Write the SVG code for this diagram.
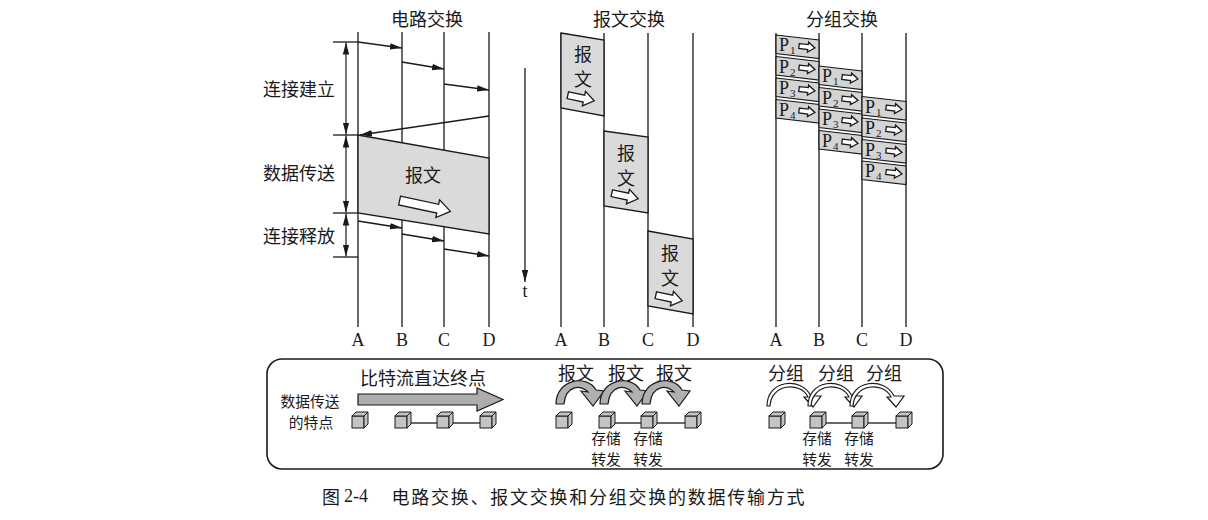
<svg xmlns="http://www.w3.org/2000/svg" xmlns:xlink="http://www.w3.org/1999/xlink" width="1208" height="520" viewBox="0 0 1208 520">
<style>
.cjk{font-family:"Noto Sans CJK SC","Noto Sans CJK JP",sans-serif;font-size:18px;fill:#1a1a1a;text-anchor:middle;dominant-baseline:central}
.ml{font-family:"Noto Sans CJK SC","Noto Sans CJK JP",sans-serif;font-size:14.8px;fill:#1a1a1a;text-anchor:middle;dominant-baseline:central}
.lat{font-family:"Liberation Serif",serif;font-size:18px;fill:#1a1a1a;text-anchor:middle;dominant-baseline:central}
.ln{stroke:#1a1a1a;stroke-width:1.3;fill:none}
.ar{stroke:#1a1a1a;stroke-width:1.3;fill:none;marker-end:url(#ah)}
.dim{stroke:#1a1a1a;stroke-width:1.2;fill:none;marker-start:url(#ah);marker-end:url(#ah)}
.gray{fill:#dadada;stroke:#1a1a1a;stroke-width:1.3}
.pk{fill:#d4d4d4;stroke:#1a1a1a;stroke-width:1.2}
.ha{fill:#fff;stroke:#1a1a1a;stroke-width:1.3}
.pl{font-family:"Liberation Serif",serif;font-size:18px;fill:#1a1a1a}
.ps{font-family:"Liberation Serif",serif;font-size:11px;fill:#1a1a1a}
.cb{fill:#c4c4c4;stroke:#1a1a1a;stroke-width:1}
</style>
<defs>
<marker id="ah" viewBox="0 0 12 8" refX="12" refY="4" markerWidth="12" markerHeight="8" markerUnits="userSpaceOnUse" orient="auto-start-reverse"><path d="M0,0.8 L12,4 L0,7.2 Z" fill="#1a1a1a"/></marker>
<path id="ham" d="M-13.5,-3.5 H3 V-7.5 L13.5,0 L3,7.5 V3.5 H-13.5 Z"/>
<path id="hab" d="M-26,-4.5 H13 V-9 L26,0 L13,9 V4.5 H-26 Z"/>
<path id="has" d="M-8,-2.5 H1 V-5 L8,0 L1,5 V2.5 H-8 Z"/>
<g id="cube"><rect x="-7" y="-3" width="12" height="12"/><path d="M-7,-3 L-3,-7 L9,-7 L5,-3 Z M5,-3 L9,-7 L9,5 L5,9 Z"/></g>
</defs>
<rect width="1208" height="520" fill="#fff"/>

<g id="titles">
<text class="cjk" x="427" y="18">电路交换</text>
<text class="cjk" x="629" y="18">报文交换</text>
<text class="cjk" x="842" y="18">分组交换</text>
</g>

<g id="circuit">
<line class="ln" x1="358" y1="32" x2="358" y2="327"/>
<line class="ln" x1="402" y1="32" x2="402" y2="327"/>
<line class="ln" x1="444" y1="32" x2="444" y2="327"/>
<line class="ln" x1="489" y1="32" x2="489" y2="327"/>
<polygon class="gray" points="358,135 489,158 489,234 358,213"/>
<text class="cjk" x="423" y="174">报文</text>
<use xlink:href="#hab" class="ha" transform="translate(425,206) rotate(12)"/>
<text class="lat" x="358" y="340">A</text>
<text class="lat" x="402" y="340">B</text>
<text class="lat" x="444" y="340">C</text>
<text class="lat" x="489" y="340">D</text>
<text class="cjk" x="299" y="88">连接建立</text>
<text class="cjk" x="299" y="172">数据传送</text>
<text class="cjk" x="299" y="235">连接释放</text>
<line class="ln" x1="333" y1="42" x2="358" y2="42"/>
<line class="ln" x1="333" y1="135" x2="358" y2="135"/>
<line class="ln" x1="333" y1="213" x2="358" y2="213"/>
<line class="ln" x1="333" y1="257" x2="358" y2="257"/>
<line class="dim" x1="346" y1="42.5" x2="346" y2="134.5"/>
<line class="dim" x1="346" y1="135.5" x2="346" y2="212.5"/>
<line class="dim" x1="346" y1="213.5" x2="346" y2="256.5"/>
</g>

<g id="time">
<line class="ar" x1="525" y1="68" x2="525" y2="282"/>
<text class="lat" x="525" y="291">t</text>
</g>

<g id="message">
<line class="ln" x1="561" y1="33" x2="561" y2="327"/>
<line class="ln" x1="604" y1="33" x2="604" y2="327"/>
<line class="ln" x1="648" y1="33" x2="648" y2="327"/>
<line class="ln" x1="693" y1="33" x2="693" y2="327"/>
<polygon class="gray" points="561,33 604,40 604,116 561,108"/>
<polygon class="gray" points="604,131 648,137 648,213 604,206"/>
<polygon class="gray" points="648,231 693,239 693,314 648,306"/>
<text class="cjk" x="583" y="53">报</text><text class="cjk" x="583" y="78">文</text>
<use xlink:href="#ham" class="ha" transform="translate(581,98) rotate(12)"/>
<text class="cjk" x="626" y="152">报</text><text class="cjk" x="626" y="177">文</text>
<use xlink:href="#ham" class="ha" transform="translate(625,196) rotate(12)"/>
<text class="cjk" x="670" y="252">报</text><text class="cjk" x="670" y="277">文</text>
<use xlink:href="#ham" class="ha" transform="translate(669,298) rotate(12)"/>
<text class="lat" x="561" y="340">A</text>
<text class="lat" x="604" y="340">B</text>
<text class="lat" x="648" y="340">C</text>
<text class="lat" x="693" y="340">D</text>
</g>

<g id="packet">
<line class="ln" x1="776" y1="33" x2="776" y2="327"/>
<line class="ln" x1="819" y1="33" x2="819" y2="327"/>
<line class="ln" x1="862" y1="33" x2="862" y2="327"/>
<line class="ln" x1="906" y1="33" x2="906" y2="327"/>
<g transform="translate(776,35)"><polygon class="pk" points="0,0 43,5 43,23.5 0,18.5"/><text class="pl" x="3" y="16">P</text><text class="ps" x="14" y="19">1</text><use xlink:href="#has" class="ha" transform="translate(31,12) rotate(7)"/></g>
<g transform="translate(776,56.5)"><polygon class="pk" points="0,0 43,5 43,23.5 0,18.5"/><text class="pl" x="3" y="16">P</text><text class="ps" x="14" y="19">2</text><use xlink:href="#has" class="ha" transform="translate(31,12) rotate(7)"/></g>
<g transform="translate(776,78)"><polygon class="pk" points="0,0 43,5 43,23.5 0,18.5"/><text class="pl" x="3" y="16">P</text><text class="ps" x="14" y="19">3</text><use xlink:href="#has" class="ha" transform="translate(31,12) rotate(7)"/></g>
<g transform="translate(776,99.5)"><polygon class="pk" points="0,0 43,5 43,23.5 0,18.5"/><text class="pl" x="3" y="16">P</text><text class="ps" x="14" y="19">4</text><use xlink:href="#has" class="ha" transform="translate(31,12) rotate(7)"/></g>
<g transform="translate(819,66)"><polygon class="pk" points="0,0 43,5 43,23.5 0,18.5"/><text class="pl" x="3" y="16">P</text><text class="ps" x="14" y="19">1</text><use xlink:href="#has" class="ha" transform="translate(31,12) rotate(7)"/></g>
<g transform="translate(819,87.5)"><polygon class="pk" points="0,0 43,5 43,23.5 0,18.5"/><text class="pl" x="3" y="16">P</text><text class="ps" x="14" y="19">2</text><use xlink:href="#has" class="ha" transform="translate(31,12) rotate(7)"/></g>
<g transform="translate(819,109)"><polygon class="pk" points="0,0 43,5 43,23.5 0,18.5"/><text class="pl" x="3" y="16">P</text><text class="ps" x="14" y="19">3</text><use xlink:href="#has" class="ha" transform="translate(31,12) rotate(7)"/></g>
<g transform="translate(819,130.5)"><polygon class="pk" points="0,0 43,5 43,23.5 0,18.5"/><text class="pl" x="3" y="16">P</text><text class="ps" x="14" y="19">4</text><use xlink:href="#has" class="ha" transform="translate(31,12) rotate(7)"/></g>
<g transform="translate(862,96.5)"><polygon class="pk" points="0,0 44,5 44,23.5 0,18.5"/><text class="pl" x="3" y="16">P</text><text class="ps" x="14" y="19">1</text><use xlink:href="#has" class="ha" transform="translate(32,12) rotate(7)"/></g>
<g transform="translate(862,118)"><polygon class="pk" points="0,0 44,5 44,23.5 0,18.5"/><text class="pl" x="3" y="16">P</text><text class="ps" x="14" y="19">2</text><use xlink:href="#has" class="ha" transform="translate(32,12) rotate(7)"/></g>
<g transform="translate(862,139.5)"><polygon class="pk" points="0,0 44,5 44,23.5 0,18.5"/><text class="pl" x="3" y="16">P</text><text class="ps" x="14" y="19">3</text><use xlink:href="#has" class="ha" transform="translate(32,12) rotate(7)"/></g>
<g transform="translate(862,161)"><polygon class="pk" points="0,0 44,5 44,23.5 0,18.5"/><text class="pl" x="3" y="16">P</text><text class="ps" x="14" y="19">4</text><use xlink:href="#has" class="ha" transform="translate(32,12) rotate(7)"/></g>
<text class="lat" x="776" y="340">A</text>
<text class="lat" x="819" y="340">B</text>
<text class="lat" x="862" y="340">C</text>
<text class="lat" x="906" y="340">D</text>
</g>

<g id="connectors">
<line class="ar" x1="358" y1="42" x2="402" y2="48"/>
<line class="ar" x1="402" y1="62" x2="444" y2="69"/>
<line class="ar" x1="444" y1="84" x2="489" y2="90"/>
<line class="ar" x1="489" y1="116" x2="360" y2="135"/>
<line class="ar" x1="358" y1="221" x2="402" y2="228"/>
<line class="ar" x1="402" y1="234" x2="444" y2="241"/>
<line class="ar" x1="444" y1="249" x2="489" y2="256"/>
</g>

<g id="legend">
<rect x="267" y="359" width="676" height="110" rx="15" ry="15" fill="none" stroke="#1a1a1a" stroke-width="1.6"/>
<text class="ml" x="310" y="400">数据传送</text>
<text class="ml" x="311" y="421.5">的特点</text>
<text class="cjk" x="423" y="377">比特流直达终点</text>
<polygon points="358,394 477,394 477,388 503,399.5 477,411 477,405 358,405" fill="#adadad" stroke="#1a1a1a" stroke-width="1.2"/>
<g class="cb">
<use xlink:href="#cube" transform="translate(359,419)"/>
<use xlink:href="#cube" transform="translate(402,419)"/>
<use xlink:href="#cube" transform="translate(444,419)"/>
<use xlink:href="#cube" transform="translate(487,419)"/>
<use xlink:href="#cube" transform="translate(563,419)"/>
<use xlink:href="#cube" transform="translate(606,419)"/>
<use xlink:href="#cube" transform="translate(648,419)"/>
<use xlink:href="#cube" transform="translate(692,419)"/>
<use xlink:href="#cube" transform="translate(776,419)"/>
<use xlink:href="#cube" transform="translate(817,419)"/>
<use xlink:href="#cube" transform="translate(859,419)"/>
<use xlink:href="#cube" transform="translate(903,419)"/>
</g>
<g class="ln">
<line x1="411" y1="423" x2="437" y2="423"/><line x1="453" y1="423" x2="480" y2="423"/>
<line x1="615" y1="423" x2="641" y2="423"/><line x1="657" y1="423" x2="685" y2="423"/>
<line x1="826" y1="423" x2="852" y2="423"/><line x1="868" y1="423" x2="896" y2="423"/>
</g>
<text class="cjk" x="576" y="372">报文</text>
<text class="cjk" x="626" y="372">报文</text>
<text class="cjk" x="674" y="372">报文</text>
<g fill="#b0b0b0" stroke="#1a1a1a" stroke-width="1.2">
<path d="M556,404 C556,379 587,374 596,390 L604,391 L593,406 L581,391 L588,392 C582,385 566,384 564,404 Z"/>
<path d="M600,404 C600,379 631,374 640,390 L648,391 L637,406 L625,391 L632,392 C626,385 610,384 608,404 Z"/>
<path d="M642,404 C642,379 673,374 682,390 L690,391 L679,406 L667,391 L674,392 C668,385 652,384 650,404 Z"/>
</g>
<text class="cjk" x="786" y="372">分组</text>
<text class="cjk" x="836" y="372">分组</text>
<text class="cjk" x="884" y="372">分组</text>
<g fill="#fff" stroke="#1a1a1a" stroke-width="1.2">
<path d="M767,406 C767,380 801,376 811,396 L821,396 L813,407 L804,397 L808,397 C800,381 771,384 770,406 Z"/>
<path d="M808,406 C808,380 842,376 852,396 L862,396 L854,407 L845,397 L849,397 C841,381 812,384 811,406 Z"/>
<path d="M850,406 C850,380 884,376 894,396 L904,396 L896,407 L887,397 L891,397 C883,381 854,384 853,406 Z"/>
</g>
<text class="ml" x="606" y="437">存储</text><text class="ml" x="606" y="458.5">转发</text>
<text class="ml" x="648" y="437">存储</text><text class="ml" x="648" y="458.5">转发</text>
<text class="ml" x="817" y="437">存储</text><text class="ml" x="817" y="458.5">转发</text>
<text class="ml" x="859" y="437">存储</text><text class="ml" x="859" y="458.5">转发</text>
</g>

<g id="caption">
<text class="cjk" x="331" y="496">图</text>
<text class="lat" x="356" y="496">2-4</text>
<text class="cjk" x="598" y="496" font-size="18.5" textLength="413" lengthAdjust="spacing">电路交换、报文交换和分组交换的数据传输方式</text>
</g>
</svg>
